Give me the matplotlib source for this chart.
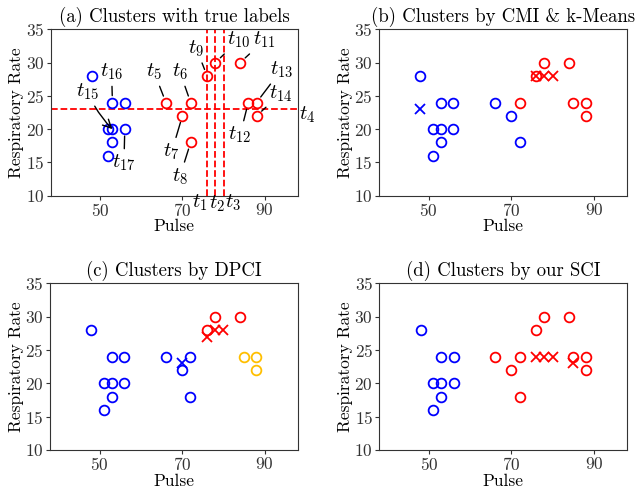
import matplotlib
matplotlib.use('Agg')
import matplotlib.pyplot as plt

plt.rcParams['font.family'] = ['cmr10', 'DejaVu Serif']
plt.rcParams['mathtext.fontset'] = 'cm'
plt.rcParams['axes.formatter.use_mathtext'] = True

# data: pulse / respiratory rate of 18 patients
pulse = [48, 51, 53, 56, 53, 56, 53, 51, 66, 72, 70, 72, 76, 78, 84, 85, 88, 88]
resp = [28, 20, 20, 20, 24, 24, 18, 16, 24, 24, 22, 18, 28, 30, 30, 24, 24, 22]
# panel (a)
pulse_a = [48, 52, 53, 56, 53, 56, 53, 52, 66, 72, 70, 72, 76, 78, 84, 86, 88, 88]

labels_true = [0, 0, 0, 0, 0, 0, 0, 0, 1, 1, 1, 1, 1, 1, 1, 1, 1, 1]
labels_cmi = [0, 0, 0, 0, 0, 0, 0, 0, 0, 1, 0, 0, 1, 1, 1, 1, 1, 1]
labels_dpci = [0, 0, 0, 0, 0, 0, 0, 0, 0, 0, 0, 0, 1, 1, 1, 2, 2, 2]
labels_sci = [0, 0, 0, 0, 0, 0, 0, 0, 1, 1, 1, 1, 1, 1, 1, 1, 1, 1]

# cluster centres (crosses)
cen_cmi_x = [48, 76, 78, 80]
cen_cmi_y = [23, 28, 28, 28]
cen_cmi_lab = [0, 1, 1, 1]
cen_dpci_x = [70, 76, 78, 80]
cen_dpci_y = [23, 27, 28, 28]
cen_dpci_lab = [0, 1, 1, 1]
cen_sci_x = [76, 78, 80, 85]
cen_sci_y = [24, 24, 24, 23]
cen_sci_lab = [1, 1, 1, 1]

# thresholds t1..t4
t_pulse = [76, 78, 80]
t_resp = 23

# point labels t5..t17 -> index of point
point_names = ['$t_{5}$', '$t_{6}$', '$t_{7}$', '$t_{8}$', '$t_{9}$', '$t_{10}$', '$t_{11}$',
               '$t_{12}$', '$t_{13}$', '$t_{14}$', '$t_{15}$', '$t_{16}$', '$t_{17}$']
point_idx = [8, 9, 10, 11, 12, 13, 14, 15, 16, 17, 2, 4, 3]
text_pos = [(63.1, 28.6), (69.4, 28.6), (67.4, 16.6), (69.4, 12.9), (73.4, 32.1),
            (83.7, 33.4), (90.0, 33.4), (84.0, 19.1), (94.0, 28.9), (94.0, 25.4),
            (47.0, 25.6), (52.8, 28.6), (55.8, 14.9)]

colors = ['#0000ff', '#ff0000', '#ffbf00']


def draw_points(ax, xs, ys, labs):
    for x, y, l in zip(xs, ys, labs):
        ax.plot(x, y, 'o', mfc='none', mec=colors[l], ms=7, mew=1.3)


def draw_centers(ax, xs, ys, labs):
    for x, y, l in zip(xs, ys, labs):
        ax.plot(x, y, 'x', color=colors[l], ms=7, mew=1.3)


def setup(ax, title):
    ax.set_xlim(38, 98)
    ax.set_ylim(10, 35)
    ax.set_xticks([50, 70, 90])
    ax.set_yticks([10, 15, 20, 25, 30, 35])
    ax.set_xlabel('Pulse', fontsize=12.5, labelpad=0)
    ax.set_ylabel('Respiratory Rate', fontsize=12.5, labelpad=1)
    ax.set_title(title, fontsize=13.5, pad=5)
    ax.tick_params(labelsize=12.5, length=3, width=0.8, pad=1.5, colors='#333333',
                   labelcolor='#333333')
    for s in ax.spines.values():
        s.set_color('#333333')


fig = plt.figure(figsize=(6.35, 4.94), dpi=100)
ax_a = fig.add_axes([0.0798, 0.6038, 0.389, 0.3368])
ax_b = fig.add_axes([0.5969, 0.6038, 0.3906, 0.3368])
ax_c = fig.add_axes([0.0787, 0.0891, 0.390, 0.3374])
ax_d = fig.add_axes([0.5973, 0.0891, 0.3901, 0.3374])

# (a) true labels with thresholds
for tp in t_pulse:
    ax_a.axvline(tp, color='#ff0000', ls='--', lw=1.3)
ax_a.axhline(t_resp, color='#ff0000', ls='--', lw=1.3)
draw_points(ax_a, pulse_a, resp, labels_true)
for name, i, pos in zip(point_names, point_idx, text_pos):
    if name == '$t_{15}$':
        ax_a.annotate(name, xy=(pulse_a[i], resp[i]), xytext=pos, fontsize=15,
                      ha='center', va='center',
                      arrowprops=dict(arrowstyle='->', color='k', lw=1, shrinkA=1, shrinkB=0,
                                      connectionstyle='arc3,rad=0.1'))
    else:
        ax_a.annotate(name, xy=(pulse_a[i], resp[i]), xytext=pos, fontsize=15,
                      ha='center', va='center',
                      arrowprops=dict(arrowstyle='-', color='k', lw=1, shrinkA=1, shrinkB=5))
ax_a.text(74.2, 9.0, '$t_1$', fontsize=15, ha='center', va='center')
ax_a.text(78.3, 8.8, '$t_2$', fontsize=15, ha='center', va='center')
ax_a.text(82.3, 9.0, '$t_3$', fontsize=15, ha='center', va='center')
ax_a.text(100.4, 22.1, '$t_4$', fontsize=15, ha='center', va='center')
setup(ax_a, '(a) Clusters with true labels')

# (b) CMI & k-Means
draw_points(ax_b, pulse, resp, labels_cmi)
draw_centers(ax_b, cen_cmi_x, cen_cmi_y, cen_cmi_lab)
setup(ax_b, '(b) Clusters by CMI & k-Means')

# (c) DPCI
draw_points(ax_c, pulse, resp, labels_dpci)
draw_centers(ax_c, cen_dpci_x, cen_dpci_y, cen_dpci_lab)
setup(ax_c, '(c) Clusters by DPCI')

# (d) our SCI
draw_points(ax_d, pulse, resp, labels_sci)
draw_centers(ax_d, cen_sci_x, cen_sci_y, cen_sci_lab)
setup(ax_d, '(d) Clusters by our SCI')

fig.savefig('out.png', dpi=100)
